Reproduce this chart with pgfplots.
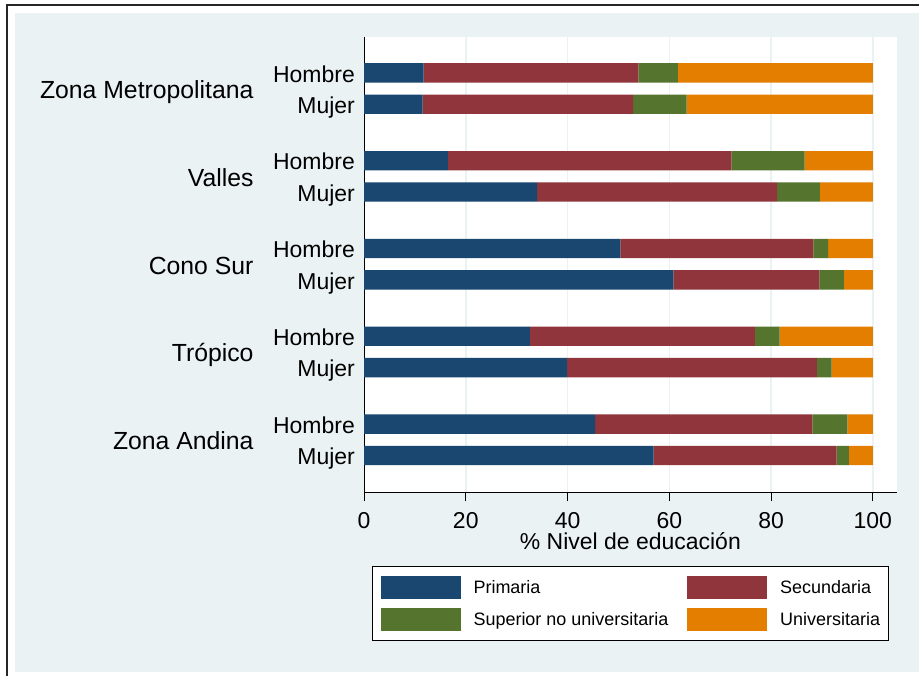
\documentclass[border=0pt]{standalone}
\usepackage{fontspec}
\setmainfont{Liberation Sans}
\usepackage{pgfplots}
\usepackage{pgfplotstable}
\pgfplotsset{compat=1.18}
\definecolor{bgc}{RGB}{234,242,243}
\definecolor{cP}{RGB}{26,71,111}
\definecolor{cS}{RGB}{144,53,59}
\definecolor{cU}{RGB}{85,117,47}
\definecolor{cO}{RGB}{227,126,0}
\pgfplotstableread{
y p s su u
0 11.7 42.2 7.8 38.3
-1 11.5 41.4 10.5 36.6
-2.8 16.5 55.7 14.4 13.4
-3.8 34.0 47.2 8.4 10.4
-5.6 50.4 37.9 2.9 8.8
-6.6 60.8 28.7 4.8 5.7
-8.4 32.6 44.2 4.9 18.3
-9.4 39.9 49.1 2.9 8.1
-11.2 45.4 42.7 6.9 5.0
-12.2 56.9 36.0 2.4 4.7
}\datatab
\begin{document}
\begin{tikzpicture}
\fill[white] (0pt,0pt) rectangle (920pt,-677pt);
\fill[bgc] (15pt,-13pt) rectangle (920pt,-672.5pt);
\draw[line width=2.5pt, black!85] (7pt,-677pt) -- (7pt,-5pt) -- (920pt,-5pt);
\begin{axis}[
  at={(364.5pt,-37pt)}, anchor=north west,
  scale only axis, width=533.5pt, height=456pt,
  xbar stacked, bar width=19.4pt,
  xmin=0, xmax=104.71, ymin=-13.376, ymax=1.146,
  axis x line*=bottom, axis y line*=left,
  axis line style={black, line width=1pt},
  axis background/.style={fill=white},
  xtick={0,20,...,100}, tick align=outside, major tick length=9pt,
  xtick style={black, line width=1pt},
  ytick style={draw=none},
  ytick={0,-1,-2.8,-3.8,-5.6,-6.6,-8.4,-9.4,-11.2,-12.2},
  yticklabels={Hombre,Mujer,Hombre,Mujer,Hombre,Mujer,Hombre,Mujer,Hombre,Mujer},
  xmajorgrids, grid style={bgc, line width=1.5pt},
  tick label style={font=\fontsize{23}{27}\selectfont, black},
  /pgf/number format/assume math mode=true,
  yticklabel style={inner sep=0pt, anchor=base east, yshift=-9.3pt},
  xticklabel style={inner sep=0pt, yshift=-10.5pt},
  xlabel={\% Nivel de educación},
  xlabel style={font=\fontsize{23}{27}\selectfont, inner sep=0pt, at={(axis description cs:0.5,0)}, anchor=north, yshift=-40pt},
  clip=false,
  legend columns=2,
  legend cell align=left,
  legend style={at={(0.5,-0.1623)}, anchor=north, draw=black, line width=0.8pt, fill=white,
    font=\fontsize{18}{21}\selectfont, inner xsep=8pt, inner ysep=9.5pt, row sep=9pt,
    nodes={inner sep=0pt, anchor=west},
    /tikz/every odd column/.append style={column sep=13pt},
    /tikz/every even column/.append style={column sep=19pt}},
  legend image code/.code={\fill[#1] (0pt,-11.5pt) rectangle (80pt,11.5pt);},
]
\addplot[fill=cP, draw=none] table[x=p, y=y]{\datatab};
\addplot[fill=cS, draw=none] table[x=s, y=y]{\datatab};
\addplot[fill=cU, draw=none] table[x=su, y=y]{\datatab};
\addplot[fill=cO, draw=none] table[x=u, y=y]{\datatab};
\legend{Primaria, Secundaria, Superior no universitaria, Universitaria}
\node[anchor=base east, inner sep=0pt, font=\fontsize{24.8}{29}\selectfont, xshift=-110.5pt, yshift=-10pt] at (axis cs:0,-0.5) {Zona Metropolitana};
\node[anchor=base east, inner sep=0pt, font=\fontsize{24.8}{29}\selectfont, xshift=-110.5pt, yshift=-10pt] at (axis cs:0,-3.3) {Valles};
\node[anchor=base east, inner sep=0pt, font=\fontsize{24.8}{29}\selectfont, xshift=-110.5pt, yshift=-10pt] at (axis cs:0,-6.1) {Cono Sur};
\node[anchor=base east, inner sep=0pt, font=\fontsize{24.8}{29}\selectfont, xshift=-110.5pt, yshift=-10pt] at (axis cs:0,-8.9) {Trópico};
\node[anchor=base east, inner sep=0pt, font=\fontsize{24.8}{29}\selectfont, xshift=-110.5pt, yshift=-10pt] at (axis cs:0,-11.7) {Zona Andina};
\end{axis}
\end{tikzpicture}
\end{document}
